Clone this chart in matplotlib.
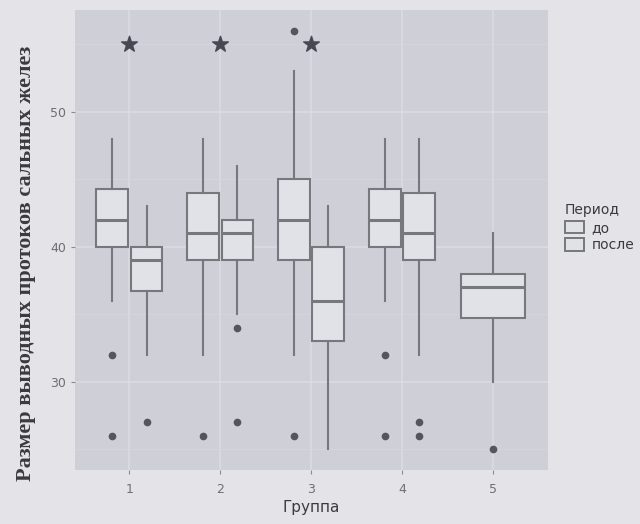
import matplotlib
matplotlib.use("Agg")
from matplotlib import pyplot as plt
import numpy as np

groups = [1, 2, 3, 4, 5]
periods = ["до", "после"]

# box stats per group: (до, после); group 5 has only one box
q1_do = [40, 39, 39, 40]
med_do = [42, 41, 42, 42]
q3_do = [44.25, 44, 45, 44.25]
lo_do = [36, 32, 32, 36]
hi_do = [48, 48, 53, 48]
out_do = [[32, 26], [26], [56, 26], [32, 26]]

q1_po = [36.75, 39, 33, 39]
med_po = [39, 41, 36, 41]
q3_po = [40, 42, 40, 44]
lo_po = [32, 35, 25, 32]
hi_po = [43, 46, 43, 48]
out_po = [[27], [34, 27], [], [27, 26]]

g5_stats = dict(q1=34.75, med=37, q3=38, whislo=30, whishi=41, fliers=[25])

star_groups = [1, 2, 3]
star_y = 55

panel = "#cfd0d7"
outer = "#e4e4e8"
line_c = "#77777e"
fill_c = "#e1e2e7"
dot_c = "#55565c"

fig = plt.figure(figsize=(6.4, 5.24), dpi=100, facecolor=outer)
ax = fig.add_axes([0.117, 0.103, 0.739, 0.878])
ax.set_facecolor(panel)

def stat(q1, med, q3, lo, hi, fl):
    return dict(q1=q1, med=med, q3=q3, whislo=lo, whishi=hi, fliers=fl)

style = dict(
    patch_artist=True, showfliers=True,
    boxprops=dict(facecolor=fill_c, edgecolor=line_c, linewidth=1.5),
    medianprops=dict(color=line_c, linewidth=2.2),
    whiskerprops=dict(color=line_c, linewidth=1.5),
    capprops=dict(linewidth=0),
    flierprops=dict(marker="o", markersize=4.5, markerfacecolor=dot_c,
                    markeredgecolor=dot_c),
)

do_stats = [stat(*v) for v in zip(q1_do, med_do, q3_do, lo_do, hi_do, out_do)]
po_stats = [stat(*v) for v in zip(q1_po, med_po, q3_po, lo_po, hi_po, out_po)]
pos = np.array(groups[:4], dtype=float)
ax.bxp(do_stats, positions=pos - 0.1875, widths=0.35, **style)
ax.bxp(po_stats, positions=pos + 0.1875, widths=0.35, **style)
ax.bxp([g5_stats], positions=[5], widths=0.7, **style)

ax.scatter(star_groups, [star_y] * len(star_groups), marker="*", s=140,
           color="#474852", zorder=5)

ax.set_xlim(0.4, 5.6)
ax.set_ylim(23.45, 57.55)
ax.set_xticks(groups)
ax.set_xticklabels([str(g) for g in groups])
ax.set_yticks([30, 40, 50])
ax.set_yticks([25, 35, 45, 55], minor=True)
ax.grid(True, which="major", color="#dcdde3", linewidth=1.1)
ax.grid(True, which="minor", axis="y", color="#d6d7dd", linewidth=0.6)
ax.set_axisbelow(True)
for s in ax.spines.values():
    s.set_visible(False)
ax.tick_params(axis="both", colors="#8a8a90", labelcolor="#6e6e74",
               labelsize=9, length=3, which="major")
ax.tick_params(axis="x", pad=6)
ax.tick_params(which="minor", length=0)

ax.set_xlabel("Группа", fontsize=11, color="#3a3a40", labelpad=3)
ax.set_ylabel("Размер выводных протоков сальных желез",
              family="Liberation Serif", fontweight="bold", fontsize=16,
              color="#3a3a40")
ax.yaxis.set_label_coords(-0.083, 0.45)

# legend on the right of the panel
leg_handles = [plt.Rectangle((0, 0), 1, 1, facecolor=fill_c, edgecolor=line_c,
                             linewidth=1.4) for _ in periods]
leg = fig.legend(leg_handles, periods, title="Период", loc="upper left",
                 bbox_to_anchor=(0.872, 0.625), frameon=False, fontsize=10,
                 title_fontsize=10, handlelength=1.4, handleheight=1.0,
                 labelspacing=0.25, borderpad=0, handletextpad=0.5)
leg._legend_box.align = "left"
for t in leg.get_texts():
    t.set_color("#3a3a40")
leg.get_title().set_color("#3a3a40")

plt.savefig("out.png", dpi=100, facecolor=outer)
